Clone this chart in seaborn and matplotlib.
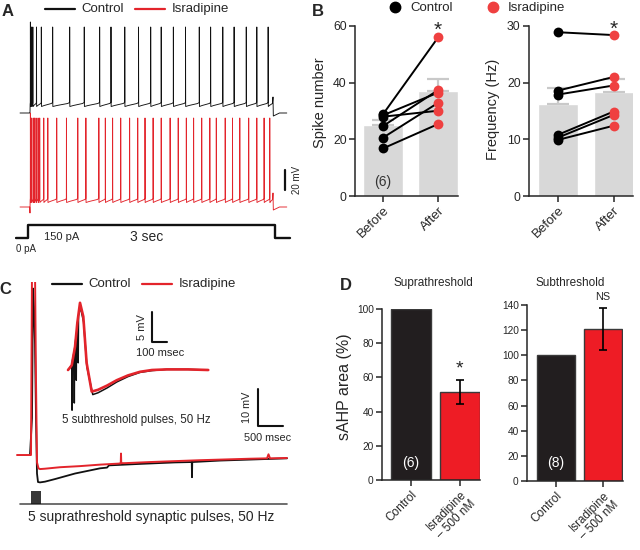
import matplotlib
matplotlib.use("Agg")
import matplotlib.pyplot as plt
from matplotlib.lines import Line2D
import numpy as np
import seaborn as sns

# ---------------- data ----------------
# A: spike times (s) during the 3 s, 150 pA current step
ctrl_spike_s = [0.005, 0.02, 0.035, 0.08, 0.14, 0.28, 0.49, 0.67, 0.86, 1.00, 1.17, 1.34,
                1.49, 1.62, 1.77, 1.92, 2.09, 2.23, 2.38, 2.52, 2.67, 2.80, 2.94]
isr_spike_s = [0.005, 0.02, 0.04, 0.055, 0.075, 0.10, 0.12, 0.17, 0.22, 0.33, 0.45, 0.59,
               0.69, 0.85, 0.93, 1.02, 1.12, 1.23, 1.33, 1.42, 1.52, 1.62, 1.73, 1.83,
               1.93, 2.02, 2.12, 2.22, 2.30, 2.41, 2.50, 2.59, 2.70, 2.80, 2.89, 2.96]
# rest, plateau during step, spike peak, first spike peak (mV)
ctrl_levels_mv = [-65, -56, 21, 26]
isr_levels_mv = [-65, -58, 24, 29]
step_t_s = [-0.17, -0.025, -0.025, 3.03, 3.03, 3.21]
step_pa = [0, 0, 150, 150, 0, 0]

# B: paired values before / after isradipine
b_cond = ["Before", "After"]
spk_before = [16.8, 20.6, 24.7, 28.0, 28.5, 28.9]
spk_after = [25.4, 32.9, 37.4, 30.1, 36.5, 56.0]
spk_mean = [25.1, 37.2]
spk_sem = [1.7, 4.0]
freq_before = [28.9, 18.6, 17.9, 10.8, 10.3, 9.9]
freq_after = [28.4, 21.0, 19.5, 14.9, 14.3, 12.4]
freq_mean = [16.2, 18.4]
freq_sem = [2.8, 2.2]

# C: sAHP after 5 suprathreshold pulses (time ms, Vm re. baseline mV)
supra_isr_t = [0, 280, 300, 330, 360, 380, 400, 430, 460, 560, 860, 1260, 1660, 2060,
               2075, 2080, 2085, 2160, 2660, 3660, 4660, 5000, 5030, 5060, 5400]
supra_isr_v = [0, 0, 50, 50, 50, 20, -2, -3.6, -3.8, -3.7, -3.3, -3.0, -2.6, -2.3,
               -2.3, 0.4, -2.2, -2.2, -1.9, -1.4, -1.0, -0.9, 0.2, -0.9, -0.8]
supra_ctrl_t = [260, 300, 320, 340, 360, 380, 400, 420, 460, 560, 760, 1160, 1660, 1800,
                1840, 2460, 3160, 3495, 3500, 3505, 4060, 5400]
supra_ctrl_v = [0, 10, 45, 40, 30, 10, -5, -7.3, -7.4, -7.2, -6.5, -5.0, -3.6, -3.4,
                -2.8, -2.4, -2.0, -1.9, -6.0, -1.9, -1.5, -0.9]
stim_ms = [300, 340, 380, 420, 460]
# inset: 5 subthreshold pulses
sub_isr_t = [0, 10, 25, 47, 62, 80, 102, 124, 158, 200, 260, 325, 400, 480, 560, 658, 800, 935]
sub_isr_v = [0, 0.3, 0.8, 3.9, 7.8, 11.2, 8.9, 1.2, -3.6, -3.3, -2.6, -1.7, -0.9, -0.3,
             0, 0.1, 0.1, 0]
sub_ctrl_t = [0, 25, 27, 29, 40, 42, 44, 53, 55, 57, 66, 68, 70, 82, 104, 126, 165, 200,
              260, 325, 400, 480, 560, 658, 800, 935]
sub_ctrl_v = [0, 0.8, -6.7, 1.5, 3.0, -5.5, 3.5, 5.5, -1.7, 6.0, 8.5, 1.2, 9.0, 10.5, 8.0,
              0.5, -4.1, -3.8, -3.0, -2.0, -1.1, -0.4, -0.1, 0.1, 0.1, 0]

# D: sAHP area (% of control)
d_cond = ["Control", "Isradipine\n– 500 nM"]
supra_area = [100, 51.5]
supra_sem = [0, 6.8]
sub_area = [100.5, 121]
sub_sem = [0, 17]

# ---------------- style ----------------
BLACK = "#111111"
RED = "#e3242b"
PT_RED = "#ef4040"
BAR_GREY = "#d8d8d8"
ERR_GREY = "#c9c9c9"
CTRL_BAR = "#221e1f"
ISR_BAR = "#ee1c25"

sns.set_style("ticks")
plt.rcParams["font.family"] = ["Liberation Sans", "DejaVu Sans"]
plt.rcParams["axes.linewidth"] = 1.1
plt.rcParams["xtick.major.width"] = 1.1
plt.rcParams["ytick.major.width"] = 1.1

W, H = 640, 550
fig = plt.figure(figsize=(6.4, 5.5), dpi=100)


def box(x0, y0, x1, y1):
    return [x0 / W, 1 - y1 / H, (x1 - x0) / W, (y1 - y0) / H]


def ftext(x, y, s, **kw):
    kw.setdefault("ha", "center")
    kw.setdefault("va", "center")
    fig.text(x / W, 1 - y / H, s, **kw)


def fline(xs, ys, **kw):
    fig.add_artist(Line2D([x / W for x in xs], [1 - y / H for y in ys], **kw))


def build_trace(spikes, rest, plateau, peak, first_peak, onset_dip=0.0, dur=3.0):
    t = [-0.123, -0.003, 0.0, 0.002]
    v = [rest, rest, rest - onset_dip, plateau]
    for i, s in enumerate(spikes):
        nxt = spikes[i + 1] if i + 1 < len(spikes) else dur
        gap = nxt - s
        t += [s - 0.001, s, s + 0.002, s + 0.25 * gap, nxt - 0.12 * gap]
        v += [plateau + 1.5, first_peak if i == 0 else peak, plateau - 2.5,
              plateau - 1.5, plateau + 0.5]
    t += [dur, dur + 0.004, dur + 0.03, dur + 0.08, 3.17]
    v += [plateau + 7, rest - 3, rest - 2, rest, rest]
    return t, v


# ---------------- A ----------------
RED_SHIFT = -94
STEP_BASE = -190
PA_SCALE = 13 / 150
axA = fig.add_axes(box(15, 15, 305, 256))
axA.set_axis_off()
ct, cv = build_trace(ctrl_spike_s, *ctrl_levels_mv)
it, iv = build_trace(isr_spike_s, *isr_levels_mv, onset_dip=6)
sns.lineplot(x=ct, y=cv, color=BLACK, lw=0.65, sort=False, estimator=None, ax=axA)
sns.lineplot(x=it, y=np.array(iv) + RED_SHIFT, color=RED, lw=0.65, sort=False,
             estimator=None, ax=axA)
sns.lineplot(x=step_t_s, y=STEP_BASE + np.array(step_pa) * PA_SCALE, color=BLACK, lw=1.7,
             sort=False, estimator=None, ax=axA)
axA.plot([3.148, 3.148], [-142, -122], color=BLACK, lw=1.6)
axA.set_xlim(-0.185, 3.395)
axA.set_ylim(-208, 33)

ftext(8, 11, "A", fontsize=12, fontweight="bold")
fline([45, 75], [9, 9], color=BLACK, lw=1.6)
ftext(81, 9, "Control", ha="left", fontsize=9.5)
fline([135, 165], [9, 9], color=RED, lw=1.6)
ftext(172, 9, "Isradipine", ha="left", fontsize=9.5)
ftext(297, 180, "20 mV", rotation=90, fontsize=7)
ftext(62, 237, "150 pA", fontsize=8)
ftext(147, 237, "3 sec", fontsize=10)
ftext(26, 249, "0 pA", fontsize=7)

# ---------------- B ----------------


def paired_panel(rect, xlim, before, after, mean, sem, ylim, yticks, ylabel, lab_xy, star_y):
    ax = fig.add_axes(box(*rect))
    sns.barplot(x=b_cond, y=mean, color=BAR_GREY, saturation=1, width=0.72, ax=ax, zorder=1)
    ax.errorbar([0, 1], mean, yerr=[[0, 0], sem], fmt="none", ecolor=ERR_GREY,
                elinewidth=1.6, capsize=8, capthick=1.6, zorder=2)
    for b, a in zip(before, after):
        ax.plot([0, 1], [b, a], color="black", lw=1.4, zorder=3)
    ax.scatter([0] * len(before), before, s=50, color="black", zorder=4, linewidths=0,
               clip_on=False)
    ax.scatter([1] * len(after), after, s=50, color=PT_RED, zorder=4, linewidths=0,
               clip_on=False)
    ax.set_xlim(*xlim)
    ax.set_ylim(*ylim)
    ax.set_yticks(yticks)
    ax.tick_params(axis="y", labelsize=8.8, length=4, pad=2)
    ax.tick_params(axis="x", labelsize=9.5, length=4, pad=2)
    ax.set_xlabel("")
    ax.set_ylabel(ylabel, fontsize=10.5)
    ax.yaxis.set_label_coords(*lab_xy)
    for lbl in ax.get_xticklabels():
        lbl.set_rotation(45)
        lbl.set_ha("right")
        lbl.set_rotation_mode("anchor")
    ax.text(1, star_y, "*", ha="center", va="center", fontsize=15, clip_on=False)
    sns.despine(ax=ax)
    return ax


axB1 = paired_panel((355, 26, 458, 196), (-0.51, 1.36), spk_before, spk_after, spk_mean,
                    spk_sem, (0, 60), [0, 20, 40, 60], "Spike number", (-0.27, 0.547), 58.5)
axB1.text(0, 4.8, "(6)", ha="center", va="center", fontsize=10, color="#333333")
paired_panel((529, 26, 633, 196), (-0.52, 1.35), freq_before, freq_after, freq_mean,
             freq_sem, (0, 30), [0, 10, 20, 30], "Frequency (Hz)", (-0.28, 0.51), 29.5)

ftext(318, 11, "B", fontsize=12, fontweight="bold")
fig.add_artist(Line2D([395 / W], [1 - 7 / H], marker="o", ms=7.5, color="black", lw=0))
ftext(410, 8, "Control", ha="left", fontsize=9.5)
fig.add_artist(Line2D([493 / W], [1 - 7 / H], marker="o", ms=7.5, color=PT_RED, lw=0))
ftext(508, 8, "Isradipine", ha="left", fontsize=9.5)

# ---------------- C ----------------
axC = fig.add_axes(box(15, 282, 295, 512))
axC.set_axis_off()
sns.lineplot(x=supra_ctrl_t, y=supra_ctrl_v, color=BLACK, lw=1.3, sort=False,
             estimator=None, ax=axC)
sns.lineplot(x=supra_isr_t, y=supra_isr_v, color=RED, lw=1.4, sort=False,
             estimator=None, ax=axC)
axC.plot([60, 5400], [-13.2, -13.2], color="#555555", lw=1.2)
axC.vlines(stim_ms, -13.2, -9.7, color=BLACK, lw=1.2)
axC.plot([4820, 4820, 5320], [17.84, 7.84, 7.84], color=BLACK, lw=1.5)
axC.set_xlim(-40, 5560)
axC.set_ylim(-15.4, 46.76)

axI = fig.add_axes(box(58, 295, 215, 418))
axI.set_axis_off()
axI.patch.set_alpha(0)
sns.lineplot(x=sub_ctrl_t, y=sub_ctrl_v, color=BLACK, lw=1.1, sort=False,
             estimator=None, ax=axI)
sns.lineplot(x=sub_isr_t, y=sub_isr_v, color=RED, lw=1.9, sort=False, estimator=None,
             ax=axI)
axI.plot([560, 560, 660], [9.67, 4.67, 4.67], color=BLACK, lw=1.5)
axI.set_xlim(-66.7, 980)
axI.set_ylim(-8.0, 12.5)

ftext(5, 290, "C", fontsize=12, fontweight="bold")
fline([52, 82], [284, 284], color=BLACK, lw=1.6)
ftext(88, 284, "Control", ha="left", fontsize=9.5)
fline([142, 172], [284, 284], color=RED, lw=1.6)
ftext(179, 284, "Isradipine", ha="left", fontsize=9.5)
ftext(142, 327, "5 mV", rotation=90, fontsize=8)
ftext(160, 353, "100 msec", fontsize=8)
ftext(136, 420, "5 subthreshold pulses, 50 Hz", fontsize=8.3)
ftext(247, 407, "10 mV", rotation=90, fontsize=7.8)
ftext(268, 438, "500 msec", fontsize=7.8)
ftext(151, 517, "5 suprathreshold synaptic pulses, 50 Hz", fontsize=10)

# ---------------- D ----------------


def sahp_panel(rect, xlim, area, sem, ylim, yticks, n_label, n_y, mark, mark_y, mark_fs):
    ax = fig.add_axes(box(*rect))
    sns.barplot(x=d_cond, y=area, hue=d_cond, palette=[CTRL_BAR, ISR_BAR], legend=False,
                saturation=1, width=0.8, edgecolor="#3a3a3a", linewidth=1, ax=ax)
    ax.errorbar([1], [area[1]], yerr=[sem[1]], fmt="none", ecolor="black", elinewidth=1.2,
                capsize=3, capthick=1.2)
    ax.set_xlim(*xlim)
    ax.set_ylim(*ylim)
    ax.set_yticks(yticks)
    ax.tick_params(axis="y", labelsize=7.3, length=4, pad=2)
    ax.tick_params(axis="x", labelsize=8.5, length=4, pad=2)
    ax.set_xlabel("")
    ax.set_ylabel("")
    for lbl in ax.get_xticklabels():
        lbl.set_rotation(45)
        lbl.set_ha("right")
        lbl.set_rotation_mode("anchor")
    ax.text(0, n_y, n_label, ha="center", va="center", color="white", fontsize=10)
    ax.text(1, mark_y, mark, ha="center", va="center", fontsize=mark_fs, clip_on=False)
    sns.despine(ax=ax)
    return ax


axD1 = sahp_panel((382, 309, 480, 480), (-0.59, 1.41), supra_area, supra_sem, (0, 100),
                  range(0, 101, 20), "(6)", 10, "*", 65, 14)
axD1.set_ylabel("sAHP area (%)", fontsize=11.5)
axD1.yaxis.set_label_coords(-0.31, 0.545)
sahp_panel((527, 305, 623, 481), (-0.617, 1.426), sub_area, sub_sem, (0, 140),
           range(0, 141, 20), "(8)", 14, "NS", 146, 7.8)

ftext(346, 285, "D", fontsize=12, fontweight="bold")
ftext(433, 283, "Suprathreshold", fontsize=8.5)
ftext(570, 283, "Subthreshold", fontsize=8.5)

fig.savefig("out.png", dpi=100)
